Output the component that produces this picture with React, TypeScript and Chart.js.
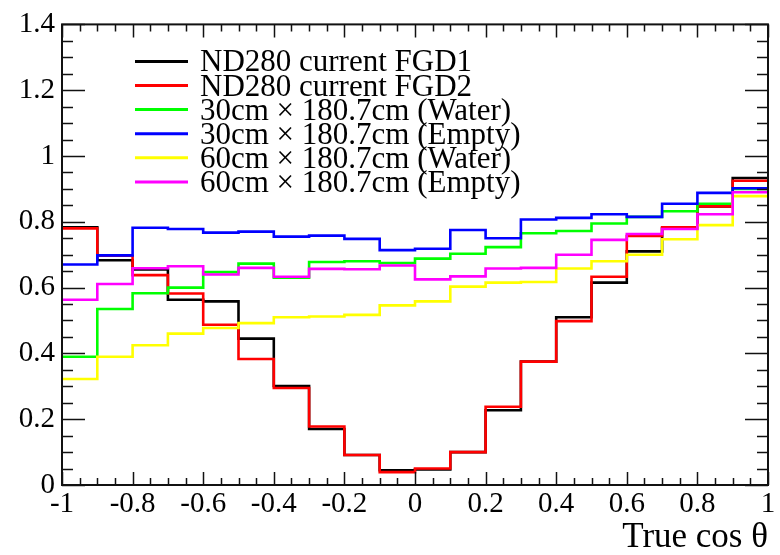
import React, { useEffect, useRef } from "react";
import { Chart, registerables } from "chart.js";

Chart.register(...registerables);

// Bin edges of cos(theta) histogram (20 bins of width 0.1)
const binEdges = [-1, -0.9, -0.8, -0.7, -0.6, -0.5, -0.4, -0.3, -0.2, -0.1, 0, 0.1, 0.2, 0.3, 0.4, 0.5, 0.6, 0.7, 0.8, 0.9, 1];

// Bin contents per series
const fgd1Current = [0.783, 0.683, 0.655, 0.563, 0.558, 0.445, 0.301, 0.170, 0.091, 0.045, 0.047, 0.100, 0.227, 0.375, 0.510, 0.615, 0.710, 0.780, 0.847, 0.933];
const fgd2Current = [0.780, 0.697, 0.638, 0.582, 0.487, 0.383, 0.295, 0.178, 0.091, 0.039, 0.050, 0.100, 0.238, 0.375, 0.498, 0.633, 0.757, 0.783, 0.847, 0.925];
const water30 = [0.390, 0.535, 0.583, 0.600, 0.647, 0.673, 0.630, 0.678, 0.680, 0.675, 0.688, 0.703, 0.723, 0.765, 0.772, 0.795, 0.815, 0.832, 0.855, 0.900];
const empty30 = [0.670, 0.698, 0.782, 0.778, 0.767, 0.770, 0.755, 0.758, 0.748, 0.714, 0.718, 0.775, 0.750, 0.807, 0.812, 0.823, 0.815, 0.855, 0.888, 0.902];
const water60 = [0.322, 0.390, 0.425, 0.460, 0.477, 0.492, 0.510, 0.512, 0.517, 0.546, 0.558, 0.603, 0.615, 0.617, 0.658, 0.680, 0.700, 0.747, 0.790, 0.878];
const empty60 = [0.563, 0.611, 0.659, 0.665, 0.640, 0.660, 0.633, 0.657, 0.656, 0.667, 0.625, 0.634, 0.658, 0.660, 0.700, 0.745, 0.763, 0.778, 0.823, 0.890];

const seriesLabels = [
  "ND280 current FGD1",
  "ND280 current FGD2",
  "30cm \u00d7 180.7cm (Water)",
  "30cm \u00d7 180.7cm (Empty)",
  "60cm \u00d7 180.7cm (Water)",
  "60cm \u00d7 180.7cm (Empty)",
];
const seriesValues = [fgd1Current, fgd2Current, water30, empty30, water60, empty60];
const seriesColors = ["#000000", "#ff0000", "#00ff00", "#0000ff", "#ffff00", "#ff00ff"];

const xTitle = "True cos \u03b8";
const FONT = '"Liberation Serif", "Times New Roman", Times, serif';

const rootFrame = {
  id: "rootFrame",
  afterDatasetsDraw(chart: any) {
    const { ctx, chartArea, scales } = chart;
    const { left, right, top, bottom } = chartArea;
    const xs = scales.x;
    const ys = scales.y;
    ctx.save();
    ctx.strokeStyle = "#111";
    ctx.lineWidth = 1.5;
    ctx.beginPath();
    for (let i = 0; i <= 40; i++) {
      const px = Math.round(xs.getPixelForValue(xs.min + (i * (xs.max - xs.min)) / 40)) + 0.5;
      const len = i % 4 === 0 ? 13 : 7;
      ctx.moveTo(px, bottom);
      ctx.lineTo(px, bottom - len);
      ctx.moveTo(px, top);
      ctx.lineTo(px, top + len);
    }
    for (let i = 0; i <= 28; i++) {
      const py = Math.round(ys.getPixelForValue(ys.min + (i * (ys.max - ys.min)) / 28)) + 0.5;
      const len = i % 4 === 0 ? 23 : 11;
      ctx.moveTo(left, py);
      ctx.lineTo(left + len, py);
      ctx.moveTo(right, py);
      ctx.lineTo(right - len, py);
    }
    ctx.stroke();
    ctx.lineWidth = 2;
    ctx.strokeRect(left, top, right - left, bottom - top);
    ctx.restore();
  },
};

const rootLegend = {
  id: "rootLegend",
  afterDraw(chart: any) {
    const { ctx, chartArea } = chart;
    const { left, top } = chartArea;
    ctx.save();
    ctx.font = `31px ${FONT}`;
    ctx.textBaseline = "alphabetic";
    ctx.textAlign = "left";
    chart.data.datasets.forEach((ds: any, i: number) => {
      const y = top + 37 + i * 24.1;
      ctx.strokeStyle = ds.borderColor;
      ctx.lineWidth = 3;
      ctx.beginPath();
      ctx.moveTo(left + 73, y);
      ctx.lineTo(left + 126, y);
      ctx.stroke();
      ctx.fillStyle = "#000";
      ctx.fillText(ds.label, left + 138, y + 10);
    });
    ctx.restore();
  },
};

export default function App() {
  const canvasRef = useRef<HTMLCanvasElement | null>(null);

  useEffect(() => {
    if (!canvasRef.current) return;
    const datasets = seriesValues.map((vals, si) => ({
      label: seriesLabels[si],
      data: binEdges.map((x, i) => ({ x, y: vals[Math.min(i, vals.length - 1)] })),
      borderColor: seriesColors[si],
      backgroundColor: seriesColors[si],
      borderWidth: 2.6,
      pointRadius: 0,
      stepped: "before" as const,
      fill: false,
      order: seriesValues.length - si,
    }));

    const chart = new Chart(canvasRef.current, {
      type: "line",
      data: { datasets },
      plugins: [rootFrame, rootLegend],
      options: {
        animation: false,
        responsive: true,
        maintainAspectRatio: false,
        layout: { padding: { top: 18, right: 12, left: 0, bottom: 0 } },
        plugins: {
          legend: { display: false },
          tooltip: { enabled: false },
        },
        scales: {
          x: {
            type: "linear",
            min: -1,
            max: 1,
            grid: { display: false, drawTicks: false },
            border: { display: false },
            ticks: {
              stepSize: 0.2,
              autoSkip: false,
              maxRotation: 0,
              padding: 2,
              color: "#000",
              font: { family: FONT, size: 29 },
              callback: (v: any) => String(Math.round(Number(v) * 10) / 10),
            },
            title: {
              display: true,
              text: xTitle,
              align: "end",
              color: "#000",
              font: { family: FONT, size: 35, lineHeight: 1 },
              padding: { top: 0, bottom: 0 },
            },
            afterFit: (s: any) => {
              s.height = 70;
            },
          },
          y: {
            type: "linear",
            min: 0,
            max: 1.4,
            grid: { display: false, drawTicks: false },
            border: { display: false },
            ticks: {
              stepSize: 0.2,
              padding: 7,
              color: "#000",
              font: { family: FONT, size: 29 },
              callback: (v: any) => String(Math.round(Number(v) * 10) / 10),
            },
            afterFit: (s: any) => {
              s.width = 62;
            },
          },
        },
      },
    });
    return () => chart.destroy();
  }, []);

  return (
    <div style={{ position: "fixed", left: 0, top: 0, width: 780, height: 555, background: "#fff" }}>
      <canvas ref={canvasRef} />
    </div>
  );
}
